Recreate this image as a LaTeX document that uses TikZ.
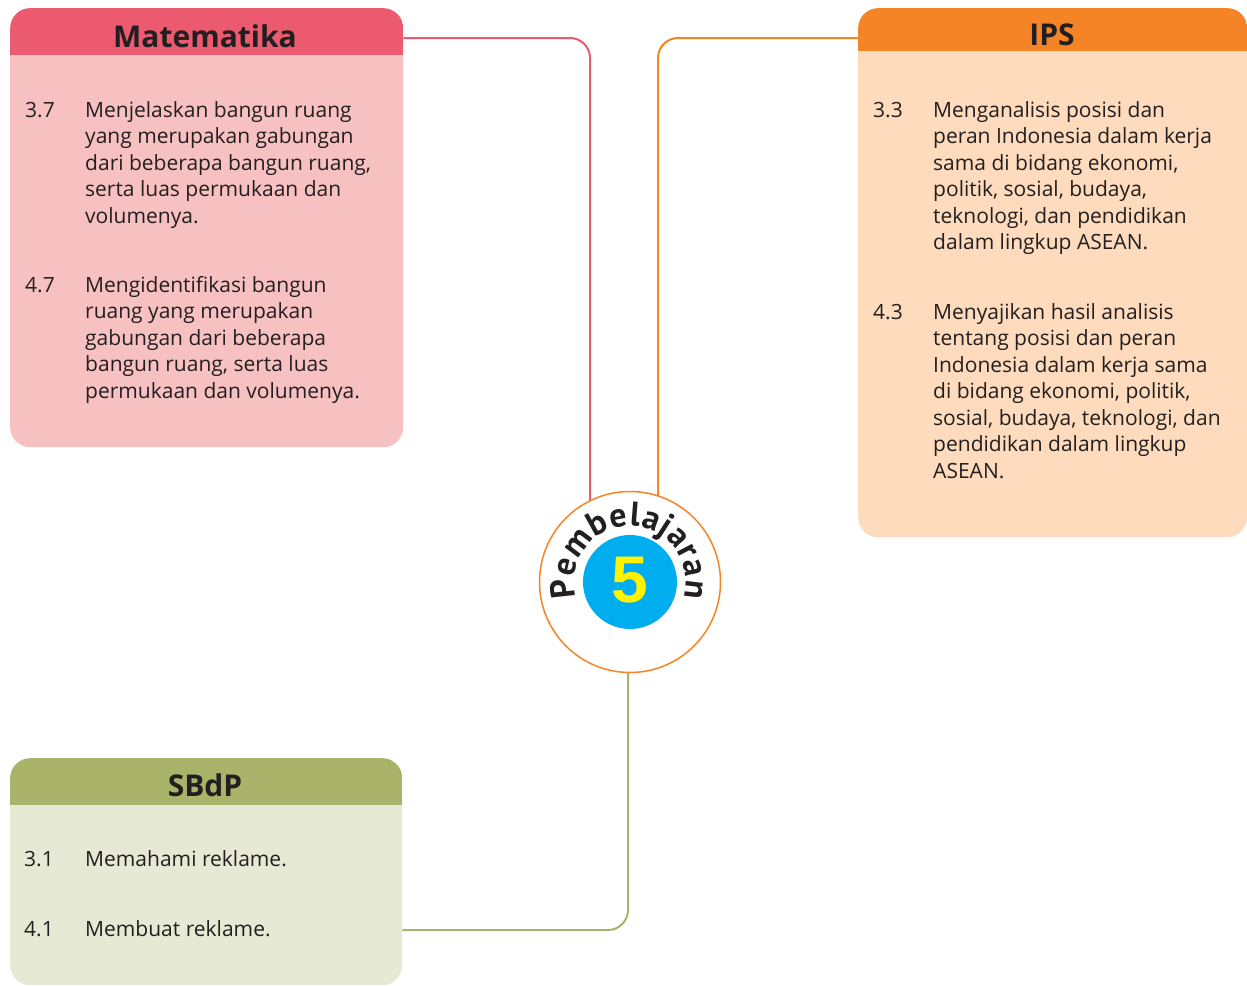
\documentclass[tikz,border=0pt]{standalone}
\usepackage{fontspec}
\setmainfont{Open Sans}
\newfontfamily\digitfont{Liberation Sans}
\newfontfamily\arcfamily{PT Sans}
\usetikzlibrary{decorations.text,calc}
\definecolor{matH}{HTML}{EC5A70}
\definecolor{matB}{HTML}{F8C1C1}
\definecolor{ipsH}{HTML}{F58426}
\definecolor{ipsB}{HTML}{FDDBBC}
\definecolor{sbdH}{HTML}{A9B46A}
\definecolor{sbdB}{HTML}{E6E9D3}
\definecolor{ink}{HTML}{231F20}
\definecolor{blueV}{HTML}{00AEEF}
\definecolor{yelV}{HTML}{FFF200}
\newcommand\mystrut{\rule{0pt}{16pt}}
\newcommand\arcstyle{\arcfamily\bfseries\fontsize{34}{34}\selectfont}
\begin{document}
\begin{tikzpicture}[x=1pt,y=-1pt,
  subjbox/.style n args={4}{anchor=north west, inner sep=0pt, rounded corners=20pt,
    fill=#1, minimum width=#3,
    path picture={\fill[#2, sharp corners] (path picture bounding box.north west) rectangle
      ([yshift=-#4]path picture bounding box.north east);}},
  head/.style={anchor=base, inner sep=0pt, text=ink,
    font=\fontsize{30}{30}\selectfont\bfseries},
  body/.style={anchor=north west, inner sep=0pt, text=ink, align=left,
    font=\fontsize{21}{26.5}\selectfont},
  conn/.style={draw=#1, line width=2pt, rounded corners=20pt}]
\useasboundingbox (0,0) rectangle (1247,985);
\fill[white] (0,0) rectangle (1247,985);

% boxes
\node[subjbox={matB}{matH}{393pt}{47pt}, minimum height=439pt] (matbox) at (10,8) {};
\node[subjbox={ipsB}{ipsH}{389pt}{43pt}, minimum height=529pt] (ipsbox) at (858,8) {};
\node[subjbox={sbdB}{sbdH}{392pt}{47pt}, minimum height=227pt] (sbdbox) at (10,758) {};

% headings
\node[head] (mathead) at (205,47) {Matematika};
\node[head] (ipshead) at (1052,45) {IPS};
\node[head] (sbdhead) at (205,796) {SBdP};

% Matematika items
\node[body] (m37n) at (25,101) {\mystrut 3.7};
\node[body] (m37t) at (85,101) {\mystrut Menjelaskan bangun ruang\\yang merupakan gabungan\\dari beberapa bangun ruang,\\serta luas permukaan dan\\volumenya.};
\node[body] (m47n) at (25,276) {\mystrut 4.7};
\node[body] (m47t) at (85,276) {\mystrut Mengidentifikasi bangun\\ruang yang merupakan\\gabungan dari beberapa\\bangun ruang, serta luas\\permukaan dan volumenya.};

% IPS items
\node[body] (i33n) at (873,101) {\mystrut 3.3};
\node[body] (i33t) at (933,101) {\mystrut Menganalisis posisi dan\\peran Indonesia dalam kerja\\sama di bidang ekonomi,\\politik, sosial, budaya,\\teknologi, dan pendidikan\\dalam lingkup ASEAN.};
\node[body] (i43n) at (873,303) {\mystrut 4.3};
\node[body] (i43t) at (933,303) {\mystrut Menyajikan hasil analisis\\tentang posisi dan peran\\Indonesia dalam kerja sama\\di bidang ekonomi, politik,\\sosial, budaya, teknologi, dan\\pendidikan dalam lingkup\\ASEAN.};

% SBdP items
\node[body] (s31n) at (24,850) {\mystrut 3.1};
\node[body] (s31t) at (85,850) {\mystrut Memahami reklame.};
\node[body] (s41n) at (24,920) {\mystrut 4.1};
\node[body] (s41t) at (85,920) {\mystrut Membuat reklame.};

% connectors
\coordinate (c) at (630,582);
\draw[conn=matH] ([yshift=-30pt]matbox.north east) -| ($(c)+(-40,0)$);
\draw[conn=ipsH] ([yshift=-30pt]ipsbox.north west) -| ($(c)+(28,0)$);
\draw[conn=sbdH] ($(c)+(-2,0)$) |- ([yshift=-172pt]sbdbox.north east);

% centre badge
\node[circle, draw=ipsH, line width=1.5pt, fill=white, minimum size=181pt, inner sep=0pt] (circ) at (c) {};
\node[circle, fill=blueV, minimum size=94pt, inner sep=0pt] (blue) at (c) {};
\node[text=yelV, inner sep=0pt, font=\digitfont\bfseries\fontsize{66}{66}\selectfont] (five) at ($(c)+(0,-2)$) {5};
\path[decorate, decoration={text along path, text={|\arcstyle|Pembelajaran},
  text align=fit to path, text color=ink}]
  ($(c)+(-196:56)$) arc[start angle=-196, end angle=16, radius=56];
\end{tikzpicture}
\end{document}
